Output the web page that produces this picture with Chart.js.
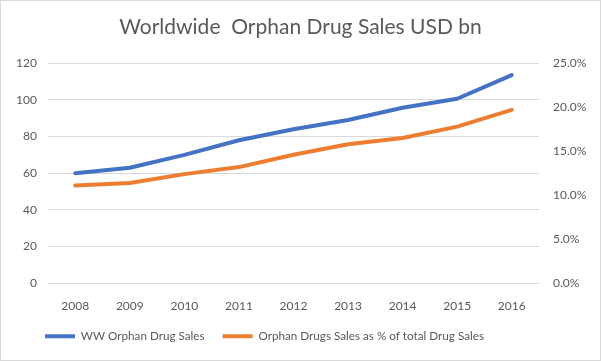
<!DOCTYPE html>
<html>
<head>
<meta charset="utf-8">
<script src="https://cdn.jsdelivr.net/npm/chart.js@4/dist/chart.umd.min.js"></script>
<style>
  html, body { margin: 0; padding: 0; background: #ffffff; }
  #wrap { width: 601px; height: 361px; box-sizing: border-box; border: 1px solid #d9d9d9; }
  #wrap canvas { display: block; }
</style>
</head>
<body>
<div id="wrap"><canvas id="orphanChart" width="599" height="359"></canvas></div>
<script>
// data
const years = ['2008', '2009', '2010', '2011', '2012', '2013', '2014', '2015', '2016'];
const wwSales = [60, 63, 70, 78, 84, 89, 95.7, 100.6, 113.5];           // USD bn, left axis
const shareOfTotal = [0.111, 0.114, 0.124, 0.132, 0.146, 0.158, 0.165, 0.178, 0.197]; // right axis
const seriesNames = ['WW Orphan Drug Sales', 'Orphan Drugs Sales as % of total Drug Sales'];

const textGrey = '#595959';
const gridGrey = '#d9d9d9';

Chart.defaults.font.family = 'Lato';
Chart.defaults.color = textGrey;

// legend sits left of centre in the original, push it over after layout
const legendShift = {
  id: 'legendShift',
  afterLayout(chart) {
    chart.legend.left = 26;
  }
};

const ctx = document.getElementById('orphanChart').getContext('2d');
const chart = new Chart(ctx, {
  type: 'line',
  data: {
    labels: years,
    datasets: [{
      label: seriesNames[0],
      data: wwSales,
      yAxisID: 'y',
      borderColor: '#4472c4',
      backgroundColor: '#4472c4',
      borderWidth: 4,
      borderCapStyle: 'round',
      borderJoinStyle: 'round',
      pointRadius: 0,
      tension: 0
    }, {
      label: seriesNames[1],
      data: shareOfTotal,
      yAxisID: 'y1',
      borderColor: '#ed7d31',
      backgroundColor: '#ed7d31',
      borderWidth: 4,
      borderCapStyle: 'round',
      borderJoinStyle: 'round',
      pointRadius: 0,
      tension: 0
    }]
  },
  options: {
    responsive: false,
    animation: false,
    layout: { padding: { bottom: 8 } },
    plugins: {
      title: {
        display: true,
        text: 'Worldwide  Orphan Drug Sales USD bn',
        color: textGrey,
        font: { size: 21, weight: 'normal' },
        padding: { top: 14, bottom: 23 }
      },
      legend: {
        position: 'bottom',
        align: 'start',
        labels: {
          usePointStyle: true,
          pointStyle: 'line',
          pointStyleWidth: 30,
          padding: 18,
          color: textGrey,
          font: { size: 11.7 }
        }
      },
      tooltip: { enabled: false }
    },
    scales: {
      x: {
        offset: true,
        grid: { display: false },
        border: { display: false },
        ticks: { padding: 8, font: { size: 12 } },
        afterFit: function(s) { s.height = 29; }
      },
      y: {
        position: 'left',
        min: 0,
        max: 120,
        ticks: { stepSize: 20, padding: 11, font: { size: 12 } },
        grid: { color: gridGrey, drawTicks: false },
        border: { display: false },
        afterFit: function(s) { s.width = 47; }
      },
      y1: {
        position: 'right',
        min: 0,
        max: 0.25,
        ticks: {
          stepSize: 0.05,
          padding: 14,
          font: { size: 12 },
          callback: function(v) { return (v * 100).toFixed(1) + '%'; }
        },
        grid: { display: false, drawTicks: false },
        border: { display: false },
        afterFit: function(s) { s.width = 61; }
      }
    }
  },
  plugins: [legendShift]
});
</script>
</body>
</html>
